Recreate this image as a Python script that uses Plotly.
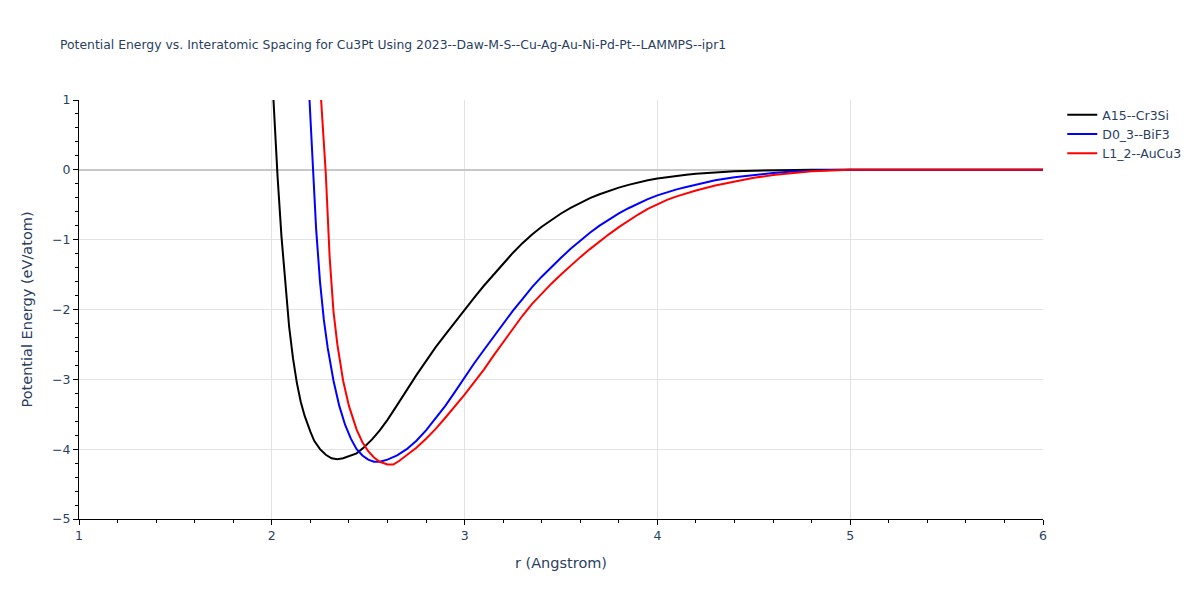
import plotly.graph_objects as go

title = "Potential Energy vs. Interatomic Spacing for Cu3Pt Using 2023--Daw-M-S--Cu-Ag-Au-Ni-Pd-Pt--LAMMPS--ipr1"

# A15--Cr3Si
r_a15 = [2.00, 2.02, 2.03, 2.05, 2.07, 2.09, 2.11, 2.13, 2.15, 2.17, 2.20, 2.22, 2.25,
         2.28, 2.31, 2.34, 2.37, 2.40, 2.44, 2.48, 2.52, 2.56, 2.60, 2.65, 2.70, 2.75,
         2.80, 2.85, 2.90, 2.95, 3.00, 3.05, 3.10, 3.15, 3.20, 3.25, 3.30, 3.35, 3.40,
         3.45, 3.50, 3.55, 3.60, 3.65, 3.70, 3.75, 3.80, 3.85, 3.90, 3.95, 4.00, 4.05,
         4.10, 4.15, 4.20, 4.30, 4.40, 4.50, 4.60, 4.70, 4.80, 5.00, 5.50, 6.00]
e_a15 = [1.45, 0.40, -0.10, -0.95, -1.65, -2.25, -2.70, -3.05, -3.32, -3.52, -3.75, -3.88, -4.00,
         -4.08, -4.13, -4.145, -4.13, -4.10, -4.06, -3.97, -3.86, -3.73, -3.58, -3.37, -3.15, -2.94,
         -2.74, -2.54, -2.36, -2.18, -2.00, -1.83, -1.66, -1.50, -1.34, -1.19, -1.05, -0.925, -0.815,
         -0.715, -0.625, -0.545, -0.47, -0.405, -0.35, -0.30, -0.255, -0.215, -0.18, -0.15, -0.125, -0.103,
         -0.085, -0.07, -0.057, -0.038, -0.022, -0.012, -0.006, -0.002, 0.0, 0.0, 0.0, 0.0]

# D0_3--BiF3
r_d03 = [2.19, 2.20, 2.21, 2.23, 2.25, 2.27, 2.29, 2.32, 2.35, 2.38, 2.41, 2.44, 2.47,
         2.50, 2.53, 2.56, 2.60, 2.65, 2.70, 2.75, 2.80, 2.85, 2.90, 2.95, 3.00, 3.05,
         3.10, 3.15, 3.20, 3.25, 3.30, 3.35, 3.40, 3.45, 3.50, 3.55, 3.60, 3.65, 3.70,
         3.75, 3.80, 3.85, 3.90, 3.95, 4.00, 4.05, 4.10, 4.15, 4.20, 4.30, 4.40, 4.50,
         4.60, 4.70, 4.80, 4.90, 5.00, 5.50, 6.00]
e_d03 = [1.30, 0.75, 0.10, -0.85, -1.60, -2.15, -2.55, -3.02, -3.38, -3.65, -3.85, -4.00, -4.09,
         -4.15, -4.18, -4.18, -4.15, -4.09, -4.00, -3.88, -3.73, -3.56, -3.38, -3.18, -2.97, -2.77,
         -2.58, -2.39, -2.21, -2.02, -1.85, -1.68, -1.53, -1.39, -1.26, -1.13, -1.01, -0.90, -0.80,
         -0.71, -0.625, -0.55, -0.48, -0.42, -0.365, -0.32, -0.28, -0.245, -0.21, -0.15, -0.105, -0.07,
         -0.045, -0.025, -0.012, -0.004, 0.0, 0.0, 0.0]

# L1_2--AuCu3
r_l12 = [2.25, 2.26, 2.28, 2.30, 2.32, 2.34, 2.37, 2.40, 2.44, 2.47, 2.50, 2.53, 2.56,
         2.60, 2.63, 2.66, 2.70, 2.75, 2.80, 2.85, 2.90, 2.95, 3.00, 3.05, 3.10, 3.15,
         3.20, 3.25, 3.30, 3.35, 3.40, 3.45, 3.50, 3.55, 3.60, 3.65, 3.70, 3.75, 3.80,
         3.85, 3.90, 3.95, 4.00, 4.05, 4.10, 4.15, 4.20, 4.30, 4.40, 4.50, 4.60, 4.70,
         4.80, 4.90, 5.00, 5.50, 6.00]
e_l12 = [1.25, 0.80, -0.05, -1.25, -2.03, -2.50, -3.02, -3.38, -3.72, -3.90, -4.03, -4.12, -4.18,
         -4.22, -4.22, -4.17, -4.08, -3.98, -3.85, -3.71, -3.55, -3.39, -3.22, -3.04, -2.86, -2.66,
         -2.47, -2.28, -2.09, -1.92, -1.77, -1.63, -1.50, -1.37, -1.25, -1.135, -1.025, -0.92, -0.82,
         -0.725, -0.64, -0.56, -0.49, -0.43, -0.38, -0.335, -0.295, -0.225, -0.165, -0.115, -0.075, -0.045,
         -0.022, -0.008, 0.0, 0.0, 0.0]

fig = go.Figure()
fig.add_trace(go.Scatter(x=r_a15, y=e_a15, mode="lines", name="A15--Cr3Si",
                         line=dict(color="black", width=2)))
fig.add_trace(go.Scatter(x=r_d03, y=e_d03, mode="lines", name="D0_3--BiF3",
                         line=dict(color="blue", width=2)))
fig.add_trace(go.Scatter(x=r_l12, y=e_l12, mode="lines", name="L1_2--AuCu3",
                         line=dict(color="red", width=2)))

axis_style = dict(showline=True, linecolor="black", linewidth=1, ticks="outside",
                  tickcolor="black", ticklen=5, showgrid=True, gridcolor="#e3e3e3",
                  zeroline=True, zerolinecolor="#c8c8c8", zerolinewidth=2,
                  minor=dict(ticks="outside", ticklen=3, tickcolor="black", showgrid=False,
                             dtick=0.2),
                  title_font=dict(size=14.5))

# page sits 8px in from the window corner, so size and margins are trimmed to match
fig.update_layout(
    template="plotly_white",
    width=1192, height=592,
    margin=dict(l=71, r=157, t=92, b=81),
    font=dict(family="DejaVu Sans", size=12.5),
    title=dict(text=title, font=dict(size=12.4), x=0.0436, y=0.9375, yanchor="middle"),
    legend=dict(x=1.02, y=1),
    xaxis=dict(range=[1, 6], dtick=1, title="r (Angstrom)", **axis_style),
    yaxis=dict(range=[-5, 1], dtick=1, title="Potential Energy (eV/atom)", **axis_style),
)

fig.write_html("out.html")
